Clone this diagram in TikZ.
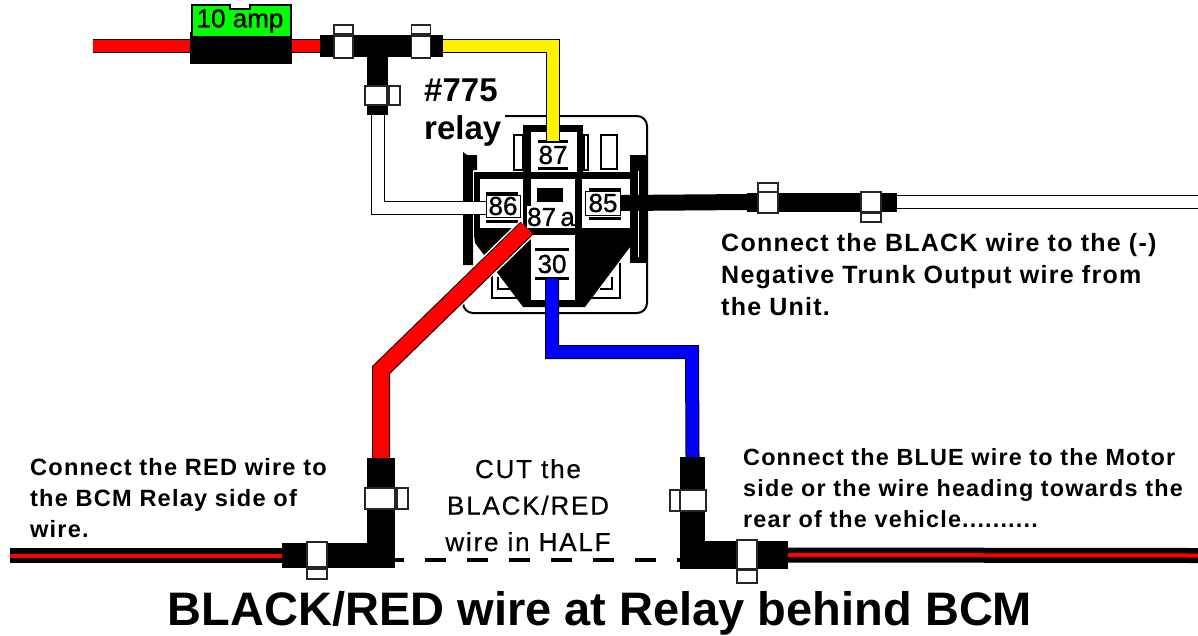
\documentclass[tikz,border=0pt]{standalone}
\usepackage{fontspec}
\setmainfont{Liberation Sans}
\newfontfamily\notefont[LetterSpace=5]{Liberation Sans Bold}
\newfontfamily\cutfont[LetterSpace=7,FakeBold=0.6]{Liberation Sans}
\newfontfamily\pinfont[FakeBold=1]{Liberation Sans}
\usetikzlibrary{arrows.meta}

\tikzset{
    wire/.style={line width=1, double=#1, double distance=12, line join=miter},
    fat wire/.style={line width=1, double=#1, double distance=16, line join=miter},
    plug/.style={fill=black, inner sep=0},
    clip body/.style={draw=black!85, fill=white, line width=1.2, inner sep=0},
    pin/.style={fill=white, inner sep=0, font=\pinfont\fontsize{26}{26}\selectfont},
    pin bar/.style={line width=3},
    panel/.style={fill=white},
    note/.style={inner sep=0, anchor=north west, align=left}
}

\begin{document}
\begin{tikzpicture}[x=1pt, y=-1pt]
    \useasboundingbox (0,0) rectangle (1198,635);

    % relay housing
    \draw[line width=2, rounded corners=10] (505,116) -- (647,116) -- (647,313) -- (463,313) -- (463,296);
    \draw[line width=1.2] (514,135) rectangle (523,170);
    \draw[line width=1.2] (584,135) rectangle (588,170);
    \draw[line width=1.2] (601,135) rectangle (617,169);
    \draw[line width=1.2] (492,270) -- (492,298) -- (523,298);
    \draw[line width=1.2] (498,277) -- (498,289) -- (512,289);
    \draw[line width=1.2] (620,263) -- (620,298) -- (590,298);
    \draw[line width=1.2] (612,277) -- (612,289) -- (600,289);
    \fill (463,152) -- (467,155) -- (477,155) -- (477,170) -- (473,170) -- (473,265) -- (463,265) -- cycle;
    \fill (630,155) -- (647,155) -- (647,263) -- (630,263) -- cycle;
    \fill (473,172) -- (638,172) -- (638,228) -- (633,243) -- (585,307) -- (523,307) -- (475,243) -- (473,228) -- cycle;
    \draw[white, line width=1] (638,171) -- (638,257);
    \draw[white, line width=1] (473,171) -- (473,245);
    \fill (523,125) -- (583,125) -- (583,172) -- (523,172) -- cycle;
    \fill[panel] (531,132) rectangle (577,172);
    \fill[panel] (480,179) rectangle (523,228);
    \fill[panel] (531,179) rectangle (575,228);
    \fill[panel] (582,179) rectangle (630,228);
    \fill[panel] (531,235) rectangle (575,300);
    \fill (537,188) rectangle (563,202);

    % pins
    \node[pin, minimum width=28, minimum height=27] (p87) at (553,155) {87};
    \node[pin, draw, line width=1, minimum width=34, minimum height=22] (p86) at (503,206) {86};
    \node[pin, draw, line width=1, minimum width=35, minimum height=24] (p85) at (603,203) {85};
    \node[pin, minimum width=48, minimum height=22] (p87a) at (551,217) {87\,a};
    \node[pin, minimum width=33, minimum height=29] (p30) at (552,264) {30};
    \draw[pin bar] (p87.north west) -- (p87.north east);
    \draw[pin bar] (p87.south west) -- (p87.south east);
    \draw[pin bar] ([yshift=1.5]p86.north west) -- ([xshift=-3,yshift=1.5]p86.north east);
    \draw[pin bar] ([yshift=-4]p86.south west) -- ([xshift=-3,yshift=-4]p86.south east);
    \draw[pin bar] ([xshift=4,yshift=1.5]p85.north west) -- ([yshift=1.5]p85.north east);
    \draw[pin bar] ([xshift=4,yshift=-3]p85.south west) -- ([yshift=-3]p85.south east);
    \draw[pin bar] (p30.north west) -- (p30.north east);
    \draw[pin bar] (p30.south west) -- (p30.south east);

    % fuse
    \node[plug, minimum width=102, minimum height=32] (fuse) at (241,48) {};
    \draw[line width=2, fill=green] (192,5) -- (230,5) -- (230,9) -- (250,9) -- (250,5) -- (291,5) -- (291,37) -- (192,37) -- cycle;
    \node[inner sep=0, font=\pinfont\fontsize{26}{26}\selectfont] (fuselabel) at (240,21) {10 amp};

    % plugs
    \node[plug, minimum width=123, minimum height=22] (tee) at (381.5,46) {};
    \node[plug, minimum width=21, minimum height=58] (teestem) at (377.5,86) {};
    \node[plug, minimum width=150, minimum height=19] (trunk) at (822,202) {};
    \node[plug, minimum width=28, minimum height=110] (lstem) at (381,513) {};
    \node[plug, minimum width=85, minimum height=25] (lfoot) at (324.5,555.5) {};
    \node[plug, minimum width=25, minimum height=112] (rstem) at (692.5,513) {};
    \node[plug, minimum width=83, minimum height=28] (rfoot) at (746.5,555) {};

    % wire ends
    \coordinate (feed) at (93,46);
    \coordinate (yellowbend) at (553.5,46);
    \coordinate (redbend) at (381,370);
    \coordinate (bluebend) at (692,352);
    \coordinate (trunkend) at (1198,202);
    \coordinate (bcmend) at (10,555.5);
    \coordinate (motorend) at (1198,555.5);

    % wires
    \draw[wire=red] (feed) -- ([yshift=2]fuse.west);
    \draw[wire=red] ([yshift=2]fuse.east) -- (tee.west);
    \draw[wire=yellow] (tee.east) -| (p87.north);
    \draw[wire=white] (teestem.south) |- ([yshift=-1.5]p86.west);
    \draw[wire=blue] (p30.south) |- (bluebend) -- (rstem.north);
    \draw[white, line width=21] (p87a.south west) -- (redbend);
    \draw[fat wire=red] (p87a.south west) -- (redbend) -- (lstem.north);
    \draw[line width=16] (p85.east) -- (trunk.west);
    \draw[wire=white] (trunk.east) -- (trunkend);
    \draw[line width=5.5, double=red, double distance=4] (bcmend) -- (lfoot.west);
    \draw[line width=5.5, double=red, double distance=4] (rfoot.east) -- (motorend);
    \draw[line width=4, dash pattern=on 21 off 21, dash phase=12] ([yshift=8]lstem.south east) -- ([yshift=9]rstem.south west);

    % clips
    \node[clip body, minimum width=19, minimum height=9] (clipa) at (343.5,29.5) {};
    \node[clip body, minimum width=19, minimum height=22] (clipb) at (343.5,47) {};
    \node[clip body, minimum width=19, minimum height=9] (clipc) at (421,29.5) {};
    \node[clip body, minimum width=19, minimum height=22] (clipd) at (421,47) {};
    \node[clip body, minimum width=11, minimum height=19] (clipe) at (394.5,95.5) {};
    \node[clip body, minimum width=22, minimum height=19] (clipf) at (376,95.5) {};
    \node[clip body, minimum width=20, minimum height=9] (clipg) at (768,187.5) {};
    \node[clip body, minimum width=20, minimum height=21] (cliph) at (768,202.5) {};
    \node[clip body, minimum width=20, minimum height=9] (clipi) at (871,217.5) {};
    \node[clip body, minimum width=20, minimum height=20] (clipj) at (871,202) {};
    \node[clip body, minimum width=11, minimum height=21] (clipk) at (402.5,498.5) {};
    \node[clip body, minimum width=30, minimum height=21] (clipl) at (380,498.5) {};
    \node[clip body, minimum width=20, minimum height=10] (clipm) at (317,574) {};
    \node[clip body, minimum width=20, minimum height=25] (clipn) at (317,554.5) {};
    \node[clip body, minimum width=10, minimum height=21] (clipo) at (675,500.5) {};
    \node[clip body, minimum width=26, minimum height=21] (clipp) at (693,500.5) {};
    \node[clip body, minimum width=20, minimum height=13] (clipq) at (747,576.5) {};
    \node[clip body, minimum width=20, minimum height=29] (clipr) at (747,554.5) {};

    % texts
    \node[note, font=\bfseries\fontsize{33}{38}\selectfont] (relaytag) at (424,79) {\#775\\relay};
    \node[note, font=\notefont\fontsize{25}{32}\selectfont] (blacknote) at (721,233) {Connect the BLACK wire to the (-)\\Negative Trunk Output wire from\\the Unit.};
    \node[note, font=\notefont\fontsize{23.6}{31}\selectfont] (rednote) at (30,458) {Connect the RED wire to\\the BCM Relay side of\\wire.};
    \node[note, font=\notefont\fontsize{23.4}{31}\selectfont] (bluenote) at (743,448) {Connect the BLUE wire to the Motor\\side or the wire heading towards the\\rear of the vehicle..........};
    \node[inner sep=0, align=center, anchor=north, font=\cutfont\fontsize{26}{36.5}\selectfont] (cutnote) at (528,459) {CUT the\\BLACK/RED\\wire in HALF};
    \node[inner sep=0, anchor=base, font=\bfseries\fontsize{47}{47}\selectfont] (titletext) at (600,625) {BLACK/RED wire at Relay behind BCM};
\end{tikzpicture}
\end{document}
